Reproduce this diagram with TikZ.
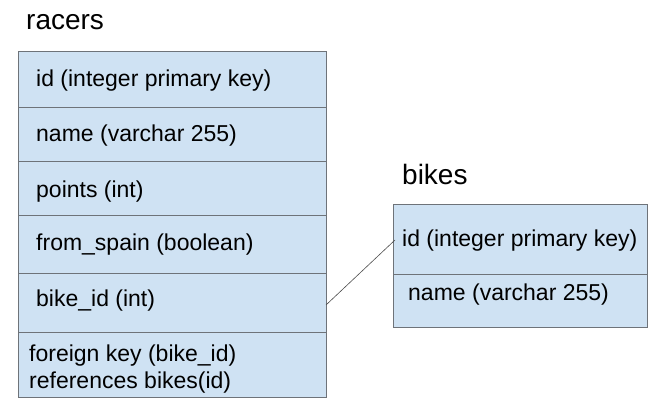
\documentclass[tikz,border=0pt]{standalone}
\usepackage{fontspec}
\setmainfont{Liberation Sans}
\definecolor{rowfill}{HTML}{CFE2F3}
\definecolor{rowline}{HTML}{6E7379}
\begin{document}
\begin{tikzpicture}[x=1pt,y=-1pt,
  title/.style={anchor=base west,inner sep=0pt,font=\fontsize{28}{32}\selectfont},
  field/.style={anchor=base west,inner sep=0pt,font=\fontsize{23}{27}\selectfont},
  rowbox/.style={draw=rowline,fill=rowfill,line width=1pt,inner sep=0pt,anchor=north west},
  link/.style={draw=black!70,line width=0.6pt}]
\useasboundingbox (0,0) rectangle (667,417);
\fill[white] (0,0) rectangle (667,417);
% racers table
\node[title] (rt) at (26,30) {racers};
\node[rowbox,minimum width=308pt,minimum height=56pt] (r1) at (18,51) {};
\node[rowbox,minimum width=308pt,minimum height=54pt] (r2) at (18,107) {};
\node[rowbox,minimum width=308pt,minimum height=54pt] (r3) at (18,161) {};
\node[rowbox,minimum width=308pt,minimum height=58pt] (r4) at (18,215) {};
\node[rowbox,minimum width=308pt,minimum height=59pt] (r5) at (18,273) {};
\node[rowbox,minimum width=308pt,minimum height=65pt] (r6) at (18,332) {};
\node[field] (t1) at (36,87) {id (integer primary key)};
\node[field] (t2) at (36,142) {name (varchar 255)};
\node[field] (t3) at (36,197) {points (int)};
\node[field] (t4) at (36,250) {from\_spain (boolean)};
\node[field] (t5) at (36,306) {bike\_id (int)};
\node[field] (t6) at (29,361) {foreign key (bike\_id)};
\node[field] (t7) at (29,388) {references bikes(id)};
% bikes table
\node[title] (bt) at (402,185) {bikes};
\node[rowbox,minimum width=254pt,minimum height=70pt] (b1) at (393,204) {};
\node[rowbox,minimum width=254pt,minimum height=53pt] (b2) at (393,274) {};
\node[field] (u1) at (402,246) {id (integer primary key)};
\node[field] (u2) at (408,300) {name (varchar 255)};
% connector
\coordinate (c1) at (326,305);
\coordinate (c2) at (395,240);
\draw[link] (c1) -- (c2);
\end{tikzpicture}
\end{document}
